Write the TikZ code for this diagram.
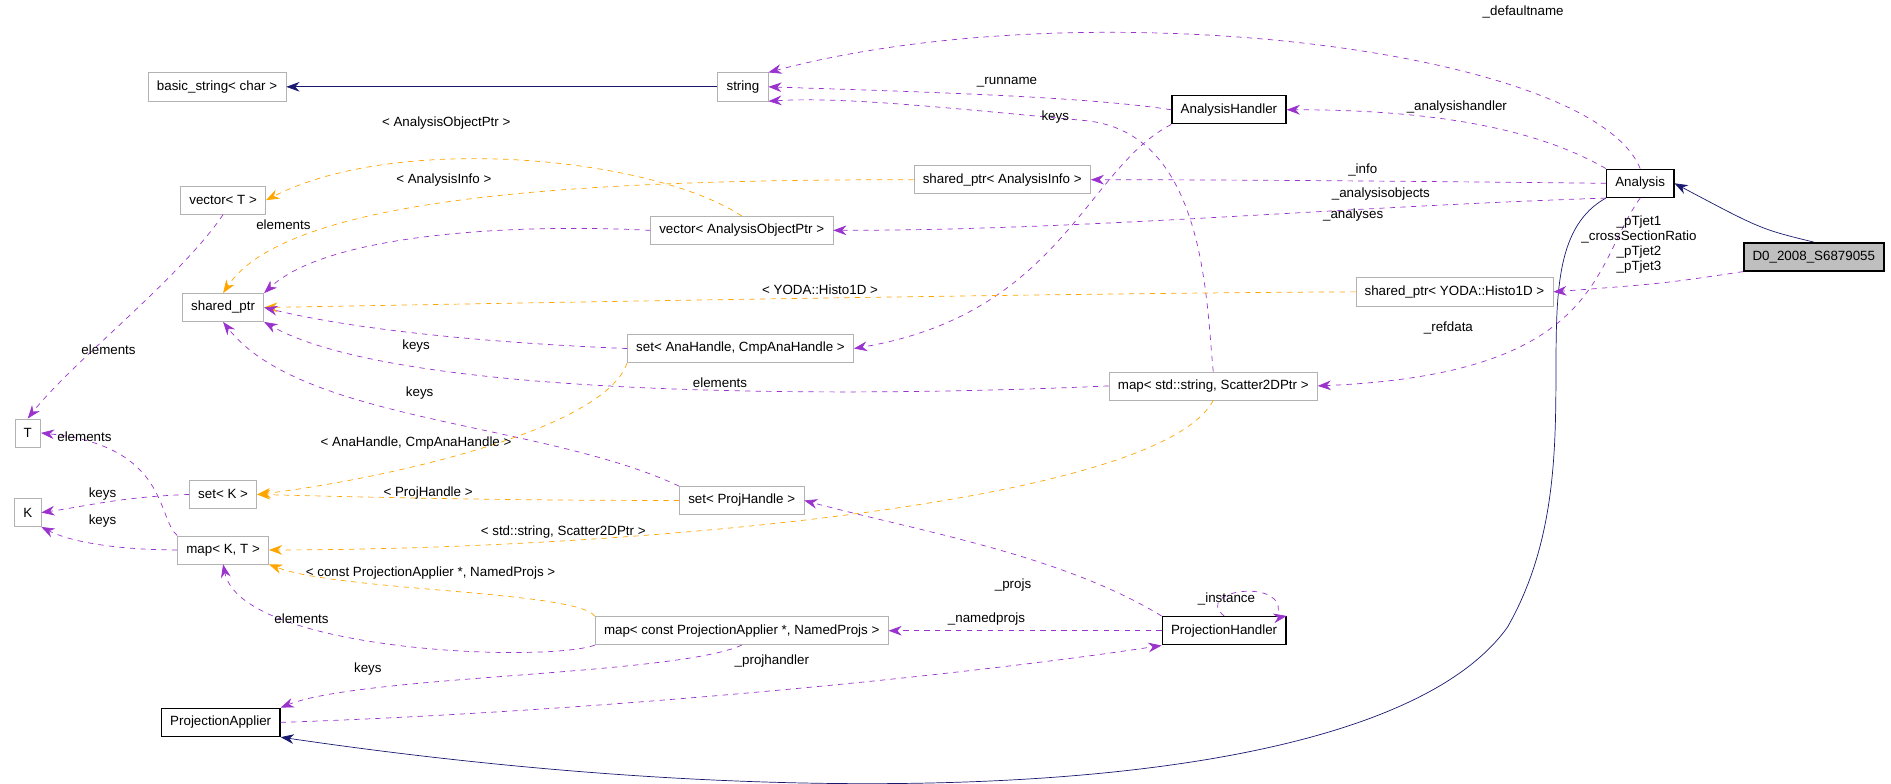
\documentclass[tikz,border=0pt]{standalone}
\usepackage{fontspec}
\setmainfont{Liberation Sans}
\usetikzlibrary{arrows.meta,positioning}
\definecolor{navyline}{HTML}{191970}
\definecolor{useline}{HTML}{9A32CD}
\definecolor{tmplline}{HTML}{FFA500}
\begin{document}
\begin{tikzpicture}[x=0.02412cm,y=-0.02412cm,
  font=\fontsize{7.6}{8.6}\selectfont,
  cls/.style={draw=black!30, fill=white, rectangle, minimum height=16pt, inner xsep=5pt, inner ysep=1pt},
  main/.style={cls, draw=black, thick},
  inh/.style={navyline, -{Stealth[length=7.5pt,width=5.5pt]}},
  use/.style={useline, dashed, -{Stealth[length=7.5pt,width=5.5pt]}},
  tmpl/.style={tmplline, dashed, -{Stealth[length=7.5pt,width=5.5pt]}},
  lab/.style={inner sep=1pt}]
\useasboundingbox (0,0) rectangle (1568,650);
% classes
\node[cls] (basicstr) at (180,72) {basic\_string< char >};
\node[cls] (string) at (616,72) {string};
\node[main] (handler) at (1019,91) {AnalysisHandler};
\node[main] (analysis) at (1360,152) {Analysis};
\node[main, fill=black!25] (d0) at (1504,213) {D0\_2008\_S6879055};
\node[cls] (spinfo) at (831,149) {shared\_ptr< AnalysisInfo >};
\node[cls] (vectorT) at (185,166) {vector< T >};
\node[cls] (vecobj) at (615,191) {vector< AnalysisObjectPtr >};
\node[cls] (sharedptr) at (185,255) {shared\_ptr};
\node[cls] (sphisto) at (1206,242) {shared\_ptr< YODA::Histo1D >};
\node[cls] (setana) at (614,289) {set< AnaHandle, CmpAnaHandle >};
\node[cls] (mapscat) at (1006,320) {map< std::string, Scatter2DPtr >};
\node[cls] (T) at (23,359) {T};
\node[cls] (setK) at (185,410) {set< K >};
\node[cls] (K) at (23,425) {K};
\node[cls] (setproj) at (615,415) {set< ProjHandle >};
\node[cls] (mapKT) at (185,456) {map< K, T >};
\node[cls] (mapnamed) at (615,523) {map< const ProjectionApplier *, NamedProjs >};
\node[main] (projhandler) at (1015,523) {ProjectionHandler};
\node[main] (projapplier) at (183,599) {ProjectionApplier};
% inheritance
\draw[inh] (string) -- (basicstr);
\draw[inh] (d0.north) .. controls (1460,190) .. (analysis.east);
\draw[inh] (analysis.south west) .. controls (1250,210) and (1330,380) .. (1250,520)
  .. controls (1150,660) and (700,680) .. (projapplier.south east);
% members
\draw[use] (analysis.north) .. controls (1320,40) and (900,-10) .. (string.north east);
\draw[use] (handler.west) .. controls (900,80) and (760,76) .. (string.east);
\draw[use] (mapscat.north) .. controls (1000,250) and (1000,110) .. (900,100) .. controls (790,90) and (700,80) .. (string.south east);
\draw[use] (analysis.north west) .. controls (1280,110) and (1200,91) .. (handler.east);
\draw[use] (analysis.west) .. controls (1150,150) and (1000,149) .. (spinfo.east);
\draw[use] (analysis.south west) .. controls (1100,172) and (900,191) .. (vecobj.east);
\draw[use] (handler.south west) .. controls (900,140) and (880,260) .. (setana.east);
\draw[use] (d0.south west) .. controls (1380,235) .. (sphisto.east);
\draw[use] (analysis.south) .. controls (1320,220) and (1330,310) .. (mapscat.east);
\draw[tmpl] (spinfo.west) .. controls (500,149) and (240,160) .. (sharedptr.north);
\draw[tmpl] (vecobj.north) .. controls (540,130) and (330,110) .. (vectorT.east);
\draw[use] (vecobj.west) .. controls (420,185) and (270,195) .. (sharedptr.north east);
\draw[tmpl] (sphisto.west) .. controls (900,243) and (500,250) .. (sharedptr.east);
\draw[use] (setana.west) .. controls (420,285) and (300,275) .. (sharedptr.east);
\draw[use] (mapscat.west) .. controls (700,330) and (330,330) .. (sharedptr.south east);
\draw[use] (vectorT.south) .. controls (150,230) and (60,300) .. (T.north);
\draw[use] (setproj.north west) .. controls (450,350) and (250,350) .. (sharedptr.south);
\draw[tmpl] (setana.south west) .. controls (500,360) and (300,400) .. (setK.east);
\draw[tmpl] (setproj.west) .. controls (400,415) and (300,412) .. (setK.east);
\draw[use] (mapKT.north west) .. controls (130,430) and (140,370) .. (T.east);
\draw[use] (setK.west) .. controls (100,412) and (70,420) .. (K.east);
\draw[use] (mapKT.west) .. controls (100,456) and (60,450) .. (K.south east);
\draw[tmpl] (mapscat.south) .. controls (960,420) and (500,456) .. (mapKT.east);
\draw[tmpl] (mapnamed.north west) .. controls (480,490) and (280,490) .. (mapKT.south east);
\draw[use] (mapnamed.south west) .. controls (450,550) and (200,540) .. (mapKT.south);
\draw[use] (mapnamed.south) .. controls (560,560) and (300,560) .. (projapplier.north east);
\draw[use] (projhandler.north west) .. controls (880,460) and (760,440) .. (setproj.east);
\draw[use] (projhandler.west) -- (mapnamed.east);
\draw[use] (projhandler.north) .. controls (990,490) and (1060,480) .. (1060,505) .. controls (1060,512) .. (projhandler.north east);
\draw[use] (projapplier.east) .. controls (500,590) and (800,560) .. (projhandler.south west);
% member labels
\node[lab] (lDefault) at (1263,10) {\_defaultname};
\node[lab] (lRun) at (835,68) {\_runname};
\node[lab] (lKeysStr) at (875,97) {keys};
\node[lab] (lHandler) at (1208,89) {\_analysishandler};
\node[lab] (lInfo) at (1130,141) {\_info};
\node[lab] (lObjects) at (1145,161) {\_analysisobjects};
\node[lab] (lAnalyses) at (1122,178) {\_analyses};
\node[lab, align=center] (lHisto) at (1359,203) {\_pTjet1\\\_crossSectionRatio\\\_pTjet2\\\_pTjet3};
\node[lab] (lRefdata) at (1201,272) {\_refdata};
\node[lab] (lTInfo) at (368,149) {< AnalysisInfo >};
\node[lab] (lTObj) at (370,102) {< AnalysisObjectPtr >};
\node[lab] (lElemVec) at (235,186) {elements};
\node[lab] (lTHisto) at (680,240) {< YODA::Histo1D >};
\node[lab] (lKeysAna) at (345,287) {keys};
\node[lab] (lElemMap) at (597,317) {elements};
\node[lab] (lElemT) at (90,290) {elements};
\node[lab] (lKeysProj) at (348,326) {keys};
\node[lab] (lTAna) at (345,367) {< AnaHandle, CmpAnaHandle >};
\node[lab] (lTProj) at (355,409) {< ProjHandle >};
\node[lab] (lElemKT) at (70,362) {elements};
\node[lab] (lKeysK1) at (85,410) {keys};
\node[lab] (lKeysK2) at (85,432) {keys};
\node[lab] (lTScat) at (467,441) {< std::string, Scatter2DPtr >};
\node[lab] (lTNamed) at (357,475) {< const ProjectionApplier *, NamedProjs >};
\node[lab] (lElemNamed) at (250,513) {elements};
\node[lab] (lKeysPA) at (305,555) {keys};
\node[lab] (lProjs) at (840,485) {\_projs};
\node[lab] (lNamed) at (818,513) {\_namedprojs};
\node[lab] (lInstance) at (1017,497) {\_instance};
\node[lab] (lProjHandler) at (640,548) {\_projhandler};
\end{tikzpicture}
\end{document}
